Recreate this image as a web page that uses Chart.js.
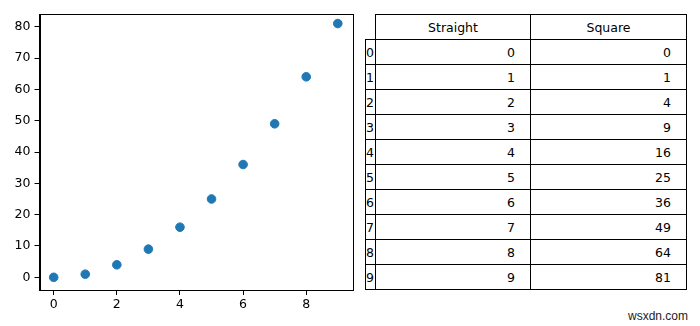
<!DOCTYPE html>
<html>
<head>
<meta charset="utf-8">
<script src="https://cdn.jsdelivr.net/npm/chart.js@4/dist/chart.umd.min.js"></script>
<style>
  body { margin: 0; background: #fff; width: 700px; height: 326px; overflow: hidden; position: relative; }
  #plotBox { position: absolute; left: 0; top: 0; width: 360px; height: 326px; }
  #tbl { position: absolute; left: 365px; top: 14px; border-collapse: collapse; table-layout: fixed;
         font-family: "DejaVu Sans", sans-serif; font-size: 12.5px; color: #000; }
  #tbl tr { height: 25px; }
  #tbl td { border: 1px solid #000; height: 25px; padding: 0; box-sizing: border-box; white-space: nowrap; overflow: visible; }
  #tbl td.lbl { text-align: left; padding-left: 0; }
  #tbl td.num { text-align: right; padding-right: 15px; }
  #tbl td.head { text-align: center; }
  #tbl td.corner { border: none; }
  #mark { position: absolute; left: 628px; top: 309px; font-family: "Liberation Sans", Arial, sans-serif; font-size: 12px; color: #222; }
</style>
</head>
<body>
<div id="plotBox"><canvas id="myChart"></canvas></div>
<table id="tbl"></table>
<div id="mark">wsxdn.com</div>
<script>
// data
const colNames = ['Straight', 'Square'];
const straight = [0, 1, 2, 3, 4, 5, 6, 7, 8, 9];
const square = [0, 1, 4, 9, 16, 25, 36, 49, 64, 81];
const xTicks = [0, 2, 4, 6, 8];
const yTicks = [0, 10, 20, 30, 40, 50, 60, 70, 80];

// table on the right
function buildTable(){
    const tbl = document.getElementById('tbl');
    let html = '<colgroup><col style="width:10px"><col style="width:155px"><col style="width:156px"></colgroup>';
    html += '<tr><td class="corner"></td>';
    for (let c = 0; c < colNames.length; c++){
        html += '<td class="head">' + colNames[c] + '</td>';
    }
    html += '</tr>';
    for (let i = 0; i < straight.length; i++){
        html += '<tr><td class="lbl">' + i + '</td><td class="num">' + straight[i] + '</td><td class="num">' + square[i] + '</td></tr>';
    }
    tbl.innerHTML = html;
}
buildTable();

// frame around the plot area (matplotlib spines)
const frame = {
    id: 'frame',
    afterDatasetsDraw(chart){
        const a = chart.chartArea, ctx = chart.ctx;
        ctx.save();
        ctx.strokeStyle = '#000';
        ctx.lineWidth = 1;
        ctx.strokeRect(Math.round(a.left) + 0.5, Math.round(a.top) + 0.5, Math.round(a.right - a.left), Math.round(a.bottom - a.top));
        ctx.restore();
    }
};

const tickFont = { family: 'DejaVu Sans', size: 12.5 };
const points = straight.map((v, i) => ({ x: v, y: square[i] }));

new Chart(document.getElementById('myChart'), {
    type: 'scatter',
    data: {
        datasets: [{
            data: points,
            backgroundColor: '#1f77b4',
            borderColor: '#1f77b4',
            pointRadius: 4.3,
            pointHoverRadius: 4.3
        }]
    },
    options: {
        responsive: true,
        maintainAspectRatio: false,
        animation: false,
        layout: { padding: { top: 14, right: 8, bottom: 14, left: 0 } },
        plugins: { legend: { display: false }, tooltip: { enabled: false } },
        scales: {
            x: {
                type: 'linear',
                min: -0.45,
                max: 9.45,
                afterBuildTicks: s => { s.ticks = xTicks.map(v => ({ value: v })); },
                afterFit: s => { s.height = 22; },
                grid: { drawOnChartArea: false, drawTicks: true, tickLength: 5, color: '#000' },
                border: { color: '#000' },
                ticks: { color: '#000', font: tickFont, padding: 2, maxRotation: 0 }
            },
            y: {
                type: 'linear',
                min: -4.05,
                max: 84.05,
                afterBuildTicks: s => { s.ticks = yTicks.map(v => ({ value: v })); },
                afterFit: s => { s.width = 39.5; },
                grid: { drawOnChartArea: false, drawTicks: true, tickLength: 5, color: '#000' },
                border: { color: '#000' },
                ticks: { color: '#000', font: tickFont, padding: 4 }
            }
        }
    },
    plugins: [frame]
});
</script>
</body>
</html>
